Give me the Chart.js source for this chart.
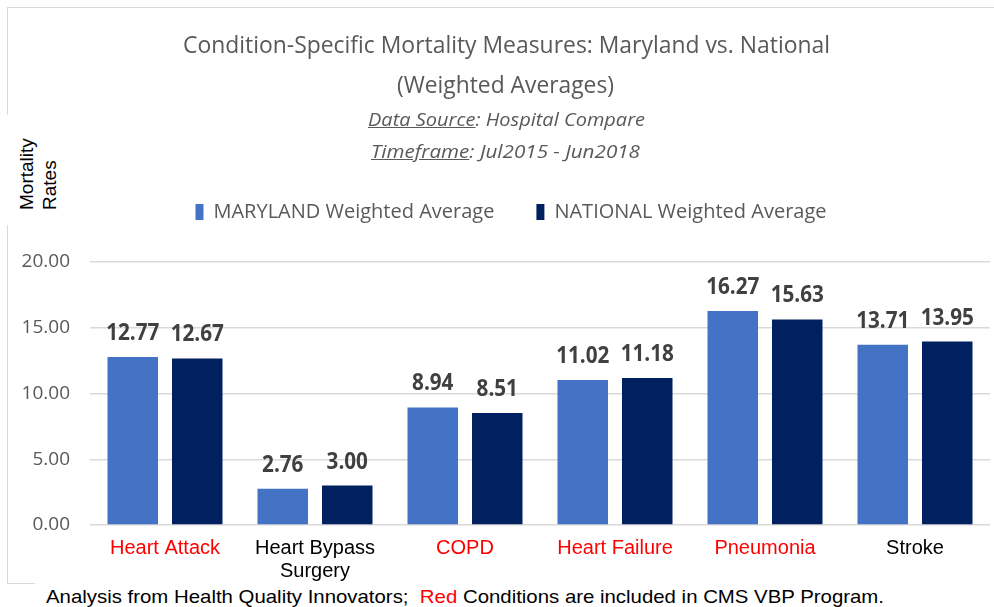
<!DOCTYPE html>
<html>
<head>
<meta charset="utf-8">
<script src="https://cdn.jsdelivr.net/npm/chart.js@4.4.1/dist/chart.umd.min.js"></script>
<style>
  html, body { margin: 0; padding: 0; background: #fff; }
  #wrap { position: relative; width: 994px; height: 607px; overflow: hidden; }
  #frame { position: absolute; left: 7px; top: 7px; width: 1010px; height: 575px; border: 1.5px solid #d9d9d9; }
  #chart { position: absolute; left: 0; top: 0; }
  .txt { position: absolute; white-space: nowrap; line-height: 1; transform-origin: 0 0; }
  .head { font-family: "Open Sans", sans-serif; color: #595959; }
  .title { font-size: 24px; font-weight: 400; }
  .sub { font-size: 19px; font-style: italic; }
  .mask { position: absolute; background: #fff; }
  #ylabel { position: absolute; left: 15px; top: 210px; font: 19px "Liberation Sans", Arial, sans-serif; line-height: 23px;
            color: #000; white-space: nowrap; transform: rotate(-90deg); transform-origin: 0 0; }
  .note { font-family: "Liberation Sans", Arial, sans-serif; font-size: 19px; color: #000; }
</style>
</head>
<body>
<div id="wrap">
  <div id="frame"></div>
  <canvas id="chart" width="994" height="607"></canvas>

  <div class="txt head title" data-x="183" data-y="32" data-w="647">Condition-Specific Mortality Measures: Maryland vs. National</div>
  <div class="txt head title" data-x="397" data-y="72" data-w="217">(Weighted Averages)</div>
  <div class="txt head sub" data-x="368" data-y="110" data-w="277"><u>Data Source</u>: Hospital Compare</div>
  <div class="txt head sub" data-x="371" data-y="142" data-w="269"><u>Timeframe</u>: Jul2015 - Jun2018</div>

  <div class="mask" style="left:0;top:115px;width:64px;height:110px;"></div>
  <div id="ylabel">Mortality<br>Rates</div>

  <div class="mask" style="left:35px;top:583px;width:970px;height:30px;"></div>
  <div class="txt note" data-x="46" data-y="587" data-w="838">Analysis from Health Quality Innovators;&nbsp; <span style="color:#ff0000">Red</span> Conditions are included in CMS VBP Program.</div>
</div>

<script>
// chart data
const categories = ['Heart Attack', ['Heart Bypass', 'Surgery'], 'COPD', 'Heart Failure', 'Pneumonia', 'Stroke'];
const marylandValues = [12.77, 2.76, 8.94, 11.02, 16.27, 13.71];
const nationalValues = [12.67, 3.00, 8.51, 11.18, 15.63, 13.95];
const inVbpProgram = [true, false, true, true, true, false];
const seriesNames = ['MARYLAND Weighted Average', 'NATIONAL Weighted Average'];
const yMin = 0, yMax = 20, yStep = 5;

// squeeze the overlay texts to the widths seen in the picture
document.querySelectorAll('.txt').forEach(el => {
  el.style.left = el.dataset.x + 'px';
  el.style.top = el.dataset.y + 'px';
  const w = el.getBoundingClientRect().width;
  el.style.transform = 'scaleX(' + (el.dataset.w / w) + ')';
});

// numbers over the bars
const valueLabels = {
  id: 'valueLabels',
  afterDatasetsDraw(chart) {
    const ctx = chart.ctx;
    ctx.save();
    ctx.font = 'bold 23px "Open Sans"';
    ctx.fillStyle = '#404040';
    ctx.textAlign = 'center';
    ctx.textBaseline = 'alphabetic';
    chart.data.datasets.forEach((ds, i) => {
      chart.getDatasetMeta(i).data.forEach((bar, j) => {
        ctx.save();
        ctx.translate(bar.x, bar.y - 17);
        ctx.scale(0.9, 1);
        ctx.fillText(ds.data[j].toFixed(2), 0, 0);
        ctx.restore();
      });
    });
    ctx.restore();
  }
};

// extra room under the legend, and legend nudged right like the original
const legendGap = {
  id: 'legendGap',
  beforeInit(chart) {
    const fit = chart.legend.fit;
    chart.legend.fit = function () {
      fit.bind(chart.legend)();
      this.height += 30;
    };
  },
  afterLayout(chart) {
    chart.legend.left += 16;
    chart.legend.right += 16;
  }
};

new Chart(document.getElementById('chart'), {
  type: 'bar',
  data: {
    labels: categories,
    datasets: [
      {
        label: seriesNames[0],
        data: marylandValues,
        backgroundColor: '#4472c4',
        barPercentage: 0.783,
        categoryPercentage: 0.86
      },
      {
        label: seriesNames[1],
        data: nationalValues,
        backgroundColor: '#002060',
        barPercentage: 0.783,
        categoryPercentage: 0.86
      }
    ]
  },
  options: {
    responsive: false,
    animation: false,
    layout: { padding: { top: 160, left: 0, right: 4, bottom: 0 } },
    plugins: {
      legend: {
        position: 'top',
        labels: {
          boxWidth: 8,
          boxHeight: 16,
          padding: 42,
          color: '#595959',
          font: { family: 'Open Sans', size: 20 }
        }
      },
      tooltip: { enabled: false }
    },
    scales: {
      x: {
        grid: { display: false },
        border: { display: false },
        ticks: {
          color: c => inVbpProgram[c.index] ? '#ff0000' : '#000000',
          font: { family: 'Liberation Sans', size: 20, lineHeight: 1.15 },
          padding: 4,
          maxRotation: 0,
          autoSkip: false
        },
        afterFit: s => { s.height = 82; }
      },
      y: {
        min: yMin,
        max: yMax,
        ticks: {
          stepSize: yStep,
          callback: v => v.toFixed(2),
          color: '#595959',
          font: { family: 'Open Sans', size: 19 },
          padding: 20
        },
        grid: { color: '#d9d9d9', lineWidth: 1.5, drawTicks: false },
        border: { display: false },
        afterFit: s => { s.width = 90; }
      }
    }
  },
  plugins: [valueLabels, legendGap]
});
</script>
</body>
</html>
